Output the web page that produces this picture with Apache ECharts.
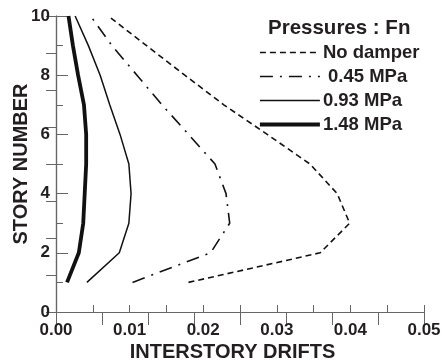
<!DOCTYPE html>
<html>
<head>
<meta charset="utf-8">
<script src="https://cdn.jsdelivr.net/npm/echarts@6/dist/echarts.min.js"></script>
<style>
  html, body { margin: 0; padding: 0; background: #fff; }
  #main { width: 442px; height: 363px; }
</style>
</head>
<body>
<div id="main"></div>
<script>
// story levels and drift values
const stories = [1, 2, 3, 4, 5, 6, 7, 8, 9, 10];
const noDamper = [0.0180, 0.0359, 0.0399, 0.0382, 0.0345, 0.0287, 0.0228, 0.0175, 0.0123, 0.0071];
const mpa045 = [0.0104, 0.0210, 0.0236, 0.0231, 0.0216, 0.0180, 0.0144, 0.0110, 0.0076, 0.0047];
const mpa093 = [0.0042, 0.0086, 0.0099, 0.0102, 0.0099, 0.0087, 0.0073, 0.0060, 0.0044, 0.0026];
const mpa148 = [0.0015, 0.0031, 0.0037, 0.0039, 0.0041, 0.0041, 0.0038, 0.0030, 0.0023, 0.0017];
const seriesNames = ['No damper', ' 0.45 MPa', '0.93 MPa', '1.48 MPa'];
const legendTitle = 'Pressures : Fn';

const font = '"Liberation Sans", Arial, Helvetica, sans-serif';
const textColor = '#231f20';
const axisColor = '#666';

// per series line look: [width, dash]
const looks = [
  [1.6, [6, 4]],
  [1.6, [13, 7, 2, 7]],
  [1.5, 'solid'],
  [3.8, 'solid']
];

function pairs(vals) {
  return vals.map((v, i) => [v, stories[i]]);
}

const chart = echarts.init(document.getElementById('main'));

const option = {
  animation: false,
  grid: { left: 56, right: 18, top: 16, bottom: 51, outerBoundsMode: 'none', containLabel: false },
  title: {
    text: legendTitle, left: 268, top: 18, padding: 0,
    textStyle: { fontFamily: font, fontWeight: 'bold', fontSize: 20.5, color: textColor }
  },
  legend: {
    orient: 'vertical',
    left: 258, top: 43, padding: 0,
    itemWidth: 60, itemHeight: 18, itemGap: 5,
    data: seriesNames.map((n, i) => ({
      name: n,
      lineStyle: { width: looks[i][0], type: looks[i][1], color: '#111' }
    })),
    itemStyle: { opacity: 0 },
    textStyle: { fontFamily: font, fontWeight: 'bold', fontSize: 18.5, lineHeight: 18, color: textColor, padding: [0, 0, 0, -2] }
  },
  xAxis: [{
    type: 'value', position: 'bottom',
    min: 0, max: 0.05, interval: 0.01,
    name: 'INTERSTORY DRIFTS', nameLocation: 'middle', nameGap: 30, nameMoveOverlap: false,
    nameTextStyle: { fontFamily: font, fontWeight: 'bold', fontSize: 20, color: textColor, padding: [0, 15, 0, 0] },
    axisLine: { lineStyle: { color: axisColor, width: 1.2 } },
    axisTick: { inside: true, length: 7, lineStyle: { color: axisColor } },
    minorTick: { show: true, splitNumber: 2, length: 7, lineStyle: { color: axisColor } },
    splitLine: { show: false },
    axisLabel: { margin: 10, fontFamily: font, fontWeight: 'bold', fontSize: 17, color: textColor,
      formatter: v => v.toFixed(2) }
  }, {
    type: 'value', position: 'top',
    min: 0, max: 0.05, interval: 0.00625,
    axisLine: { lineStyle: { color: axisColor, width: 1.2 } },
    axisTick: { inside: true, length: 13, lineStyle: { color: axisColor } },
    splitLine: { show: false },
    axisLabel: { show: false }
  }],
  yAxis: [{
    type: 'value', position: 'left',
    min: 0, max: 10, interval: 2,
    name: 'STORY NUMBER', nameLocation: 'middle', nameGap: 25, nameMoveOverlap: false,
    nameTextStyle: { fontFamily: font, fontWeight: 'bold', fontSize: 20, color: textColor },
    axisLine: { lineStyle: { color: axisColor, width: 1.2 } },
    axisTick: { inside: true, length: 12, lineStyle: { color: axisColor } },
    minorTick: { show: true, splitNumber: 2, length: 7, lineStyle: { color: axisColor } },
    splitLine: { show: false },
    axisLabel: { margin: 6, fontFamily: font, fontWeight: 'bold', fontSize: 17, color: textColor }
  }, {
    type: 'value', position: 'right',
    min: 0, max: 10, interval: 1.25,
    axisLine: { lineStyle: { color: axisColor, width: 1.2 } },
    axisTick: { inside: true, length: 10, lineStyle: { color: axisColor } },
    splitLine: { show: false },
    axisLabel: { show: false }
  }],
  series: [noDamper, mpa045, mpa093, mpa148].map((vals, i) => ({
    name: seriesNames[i], type: 'line', symbol: 'none', data: pairs(vals),
    lineStyle: { color: '#111', width: looks[i][0], type: looks[i][1] },
    itemStyle: { color: '#111' }
  }))
};

chart.setOption(option);
</script>
</body>
</html>
